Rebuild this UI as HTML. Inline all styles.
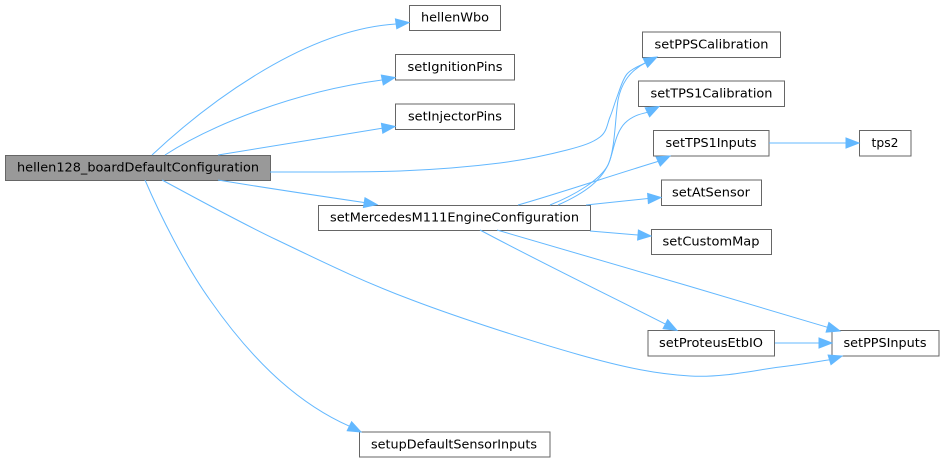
<!DOCTYPE html>
<html>
<head>
<meta charset="utf-8">
<style>
  html, body { margin: 0; padding: 0; background: #ffffff; }
  svg { display: block; }
  .n { fill: #ffffff; stroke: #666666; stroke-width: 1; }
  .m { fill: #999999; stroke: #666666; stroke-width: 1; }
  .e { fill: none; stroke: #63b8ff; stroke-width: 1; }
  .a { fill: #63b8ff; stroke: #63b8ff; stroke-width: 1; }
  text { font-family: "DejaVu Sans", "Liberation Sans", sans-serif; font-size: 12.3px; fill: #000000; text-anchor: middle; }
</style>
</head>
<body>
<svg width="944" height="463" viewBox="0 0 944 463" xmlns="http://www.w3.org/2000/svg">
  <rect x="0" y="0" width="944" height="463" fill="#ffffff"/>

  <!-- Nodes -->
  <rect class="m" x="5.5" y="155.5" width="265" height="25"/>
  <text x="138" y="171.4" textLength="242" lengthAdjust="spacingAndGlyphs">hellen128_boardDefaultConfiguration</text>

  <rect class="n" x="409.5" y="5.5" width="91" height="25"/>
  <text x="455" y="21.4" textLength="68" lengthAdjust="spacingAndGlyphs">hellenWbo</text>

  <rect class="n" x="395.5" y="54.5" width="119" height="25.5"/>
  <text x="455" y="70.9" textLength="95" lengthAdjust="spacingAndGlyphs">setIgnitionPins</text>

  <rect class="n" x="395.5" y="104" width="119" height="25.5"/>
  <text x="455" y="120.4" textLength="94" lengthAdjust="spacingAndGlyphs">setInjectorPins</text>

  <rect class="n" x="318.5" y="205.5" width="272" height="25"/>
  <text x="454.5" y="221.4" textLength="249" lengthAdjust="spacingAndGlyphs">setMercedesM111EngineConfiguration</text>

  <rect class="n" x="642.5" y="32" width="138" height="25.5"/>
  <text x="711.5" y="48.4" textLength="114" lengthAdjust="spacingAndGlyphs">setPPSCalibration</text>

  <rect class="n" x="638.5" y="81" width="146" height="25.5"/>
  <text x="711.5" y="97.4" textLength="122" lengthAdjust="spacingAndGlyphs">setTPS1Calibration</text>

  <rect class="n" x="653.5" y="130.5" width="115.5" height="25.5"/>
  <text x="711" y="146.9" textLength="91" lengthAdjust="spacingAndGlyphs">setTPS1Inputs</text>

  <rect class="n" x="859.5" y="130.5" width="51.5" height="25.5"/>
  <text x="885" y="146.9" textLength="27" lengthAdjust="spacingAndGlyphs">tps2</text>

  <rect class="n" x="661.5" y="180" width="100" height="25.5"/>
  <text x="711" y="196.4" textLength="78" lengthAdjust="spacingAndGlyphs">setAtSensor</text>

  <rect class="n" x="651.5" y="229.5" width="120" height="25"/>
  <text x="711" y="245.4" textLength="97" lengthAdjust="spacingAndGlyphs">setCustomMap</text>

  <rect class="n" x="648" y="330.5" width="126.5" height="25.5"/>
  <text x="711" y="346.9" textLength="104" lengthAdjust="spacingAndGlyphs">setProteusEtbIO</text>

  <rect class="n" x="832" y="330.5" width="107" height="25.5"/>
  <text x="885" y="346.9" textLength="83" lengthAdjust="spacingAndGlyphs">setPPSInputs</text>

  <rect class="n" x="359.5" y="432" width="190.5" height="25"/>
  <text x="454" y="448.4" textLength="166" lengthAdjust="spacingAndGlyphs">setupDefaultSensorInputs</text>

  <!-- Edges -->
  <path class="e" d="M152,155 C200,110 300,30 396,24"/>
  <polygon class="a" points="396.8,28.7 409,22.5 395.4,18.9"/>

  <path class="e" d="M165,155 C210,126 292,92 382,80"/>
  <polygon class="a" points="383.3,84.9 395,77.5 381.3,75.1"/>

  <path class="e" d="M218,155 C260,148 330,137 382,128.3"/>
  <polygon class="a" points="382.8,133.2 395,126.5 381.4,123.3"/>

  <path class="e" d="M218,180 C260,187 320,196 364,202.5"/>
  <polygon class="a" points="363.4,207.5 377,204.5 365,197.8"/>

  <path class="e" d="M270,172 C291.7,171.8 361.7,172.5 400,171 C438.3,169.5 472.2,166.5 500,163 C527.8,159.5 550.3,154.3 567,150 C583.7,145.7 592.8,142.5 600,137 C607.2,131.5 607.2,123.7 610,117 C612.8,110.3 614.2,104.2 617,97 C619.8,89.8 622.3,79.7 627,74 C631.7,68.3 642,64.8 645.4,62.8"/>

  <path class="e" d="M550,205 C575,195 600,180 608,165 C615,150 615,120 618,100 C621,85 628,72 645.4,62.8"/>
  <polygon class="a" points="647.6,67.3 657,57 643.2,58.3"/>

  <path class="e" d="M558,205 C585,193 603,180 610,160 C614,148 616,132 625,123 C632,116 640,114 647.4,112.3"/>
  <polygon class="a" points="649.6,116.8 659,106.5 645.2,107.8"/>

  <path class="e" d="M518,205 C560,193 610,176 658.2,161.4"/>
  <polygon class="a" points="660.3,166 670,156 656.1,156.9"/>

  <path class="e" d="M586,205 L648,198.5"/>
  <polygon class="a" points="648.4,203.5 661,197.5 647.6,193.5"/>

  <path class="e" d="M590,231 L638,235"/>
  <polygon class="a" points="637.6,240 651,236 638.4,230"/>

  <path class="e" d="M480,230 C540,262 610,296 665.4,324.1"/>
  <polygon class="a" points="663.1,328.6 677,330.5 667.7,319.6"/>

  <path class="e" d="M497,230 C600,260 720,295 827.5,327.3"/>
  <polygon class="a" points="826.1,332.1 840,331 828.9,322.5"/>

  <path class="e" d="M775,343 L819,343"/>
  <polygon class="a" points="819,348 832,343 819,338"/>

  <path class="e" d="M162,180 C181,190 235,220 277,240 C319,260 361,281 412,300 C462,319 534,342 580,355 C626,368 657,374 690,376 C723,378 756.7,369.7 780,367 C803.3,364.3 821.3,361 829.6,359.8"/>
  <polygon class="a" points="831,364.6 842,356 828.1,355"/>

  <path class="e" d="M145,180 C160,215 185,265 210,300 C245,350 290,400 349.4,426.2"/>
  <polygon class="a" points="347.2,430.7 361,432 351.6,421.7"/>

  <path class="e" d="M769,143 L846,143"/>
  <polygon class="a" points="846,148 859,143 846,138"/>
</svg>
</body>
</html>
